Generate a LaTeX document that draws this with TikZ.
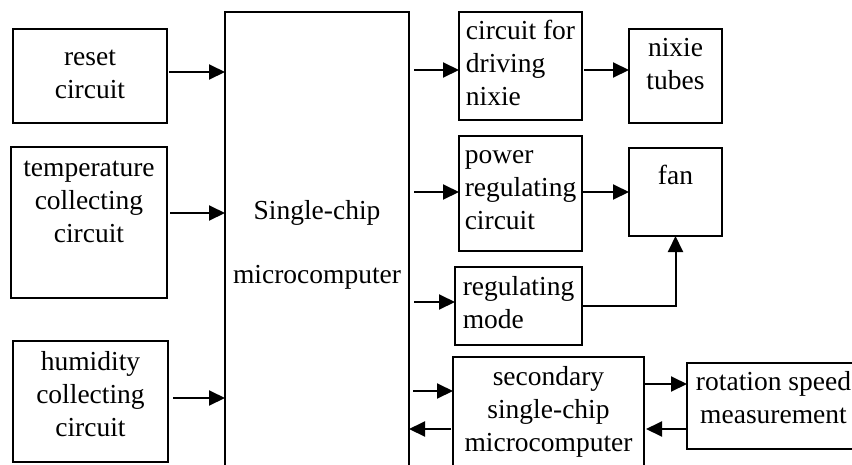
\documentclass[tikz,border=0pt]{standalone}
\usepackage{fontspec}
\setmainfont{Liberation Serif}
\usetikzlibrary{arrows.meta,positioning,calc}
\tikzset{
	blk/.style={draw, line width=1.3pt, inner sep=3pt, outer sep=0pt,
		align=center, font=\fontsize{27.5}{33}\selectfont},
	lft/.style={blk, align=left},
	arr/.style={line width=2pt, -{Triangle[length=16pt, width=15pt]}},
}
\begin{document}
\begin{tikzpicture}[x=1pt, y=-1pt]
				\useasboundingbox (0,0) rectangle (852,464);
				\node[blk, minimum width=154pt, minimum height=94pt, text height=52pt, text depth=7pt] at (90,76) (reset) {reset\\circuit};
				\node[blk, minimum width=156pt, minimum height=151pt, text height=85pt, text depth=46pt] at (89,222.5) (temp) {temperature\\collecting\\circuit};
				\node[blk, minimum width=155pt, minimum height=121pt, text height=85pt, text depth=15pt] at (90.5,401.5) (hum) {humidity\\collecting\\circuit};
				\node[blk, minimum width=184pt, minimum height=458pt, text height=84pt, text depth=0pt] at (317,241) (main) {Single-chip\\[31pt]microcomputer};
				\node[lft, minimum width=123pt, minimum height=108pt, text height=85pt, text depth=7pt] at (520.5,66) (drv) {circuit for\\driving\\nixie};
				\node[blk, minimum width=93pt, minimum height=94pt, text height=52pt, text depth=26pt] at (675.5,76) (nixie) {nixie\\tubes};
				\node[lft, minimum width=123pt, minimum height=115pt, text height=85pt, text depth=13pt] at (520.5,193.5) (pwr) {power\\regulating\\circuit};
				\node[blk, minimum width=93pt, minimum height=88pt, text height=19pt, text depth=35pt] at (675.5,192) (fan) {fan};
				\node[lft, minimum width=127pt, minimum height=78pt, text height=52pt, text depth=7pt] at (518.5,306) (mode) {regulating\\mode};
				\node[blk, minimum width=191pt, minimum height=113pt, text height=85pt, text depth=10pt] at (548.5,413.5) (sec) {secondary\\single-chip\\microcomputer};
				\node[blk, minimum width=173pt, minimum height=86pt, text height=52pt, text depth=17pt] at (773.5,406) (rot) {rotation speed\\measurement};
				\draw[arr, shorten <=2pt] ([yshift=4pt]reset.east) -- ([yshift=4pt]reset.east -| main.west);
				\draw[arr, shorten <=3pt] ([yshift=9.5pt]temp.east) -- ([yshift=9.5pt]temp.east -| main.west);
				\draw[arr, shorten <=5pt] ([yshift=3.5pt]hum.east) -- ([yshift=3.5pt]hum.east -| main.west);
				\draw[arr, shorten <=5pt] ([yshift=-4pt]drv.west -| main.east) -- ([yshift=-4pt]drv.west);
				\draw[arr, shorten <=2pt] ([yshift=-4pt]drv.east) -- ([yshift=-4pt]drv.east -| nixie.west);
				\draw[arr, shorten <=5pt] ([yshift=1.5pt]pwr.west -| main.east) -- ([yshift=1.5pt]pwr.west);
				\draw[arr] ([yshift=1.5pt]pwr.east) -- ([yshift=1.5pt]pwr.east -| fan.west);
				\draw[arr, shorten <=5pt] ([yshift=4pt]mode.west -| main.east) -- ([yshift=4pt]mode.west);
				\draw[arr] (mode.east) -| (fan.south);
				\draw[arr, shorten <=4pt] ([yshift=22.5pt]sec.west -| main.east) -- ([yshift=22.5pt]sec.west);
				\draw[arr, shorten <=2pt] ([yshift=-15.5pt]sec.west) -- ([yshift=-15.5pt]sec.west -| main.east);
				\draw[arr] ([yshift=22pt]rot.west -| sec.east) -- ([yshift=22pt]rot.west);
				\draw[arr, shorten >=2pt] ([yshift=-23pt]rot.west) -- ([yshift=-23pt]rot.west -| sec.east);
			\end{tikzpicture}
\end{document}
